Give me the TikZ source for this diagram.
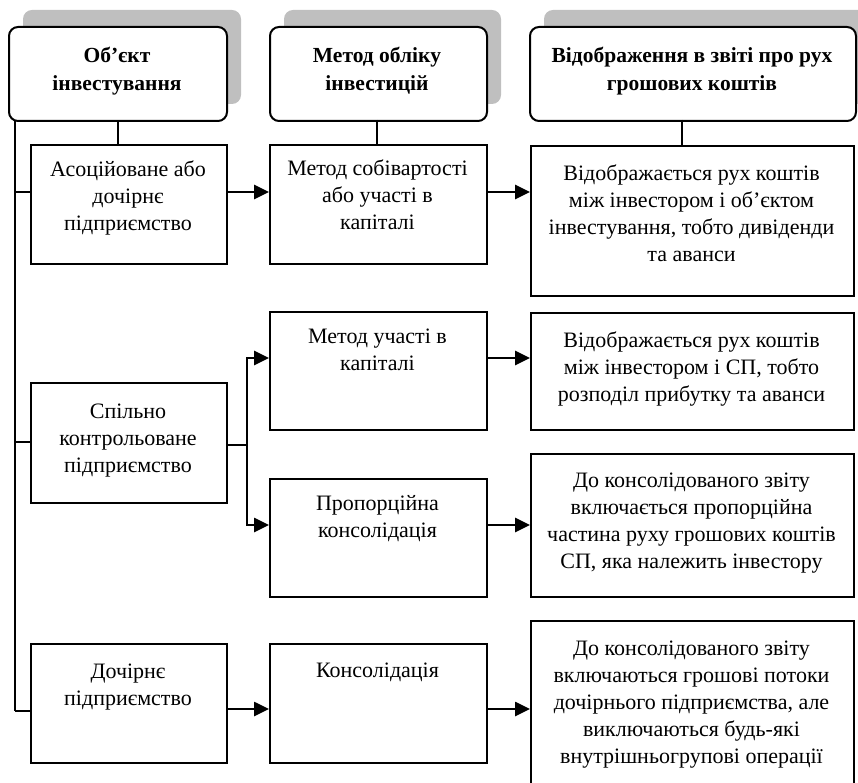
\documentclass[tikz,border=0pt]{standalone}
\usepackage{fontspec}
\setmainfont{Liberation Serif}
\usetikzlibrary{arrows.meta}
\newcommand\firstln{\rule{0pt}{15.5pt}}
\begin{document}
\begin{tikzpicture}[x=1pt,y=-1pt,
  hdr/.style={draw, line width=2pt, rounded corners=9pt, fill=white, anchor=north west, inner sep=0pt},
  shd/.style={fill=black!25, rounded corners=9pt},
  box/.style={draw, line width=1.6pt, anchor=north west, inner sep=0pt},
  txt/.style={anchor=north, inner sep=0pt, align=center, font=\fontsize{22}{27}\selectfont},
  htxt/.style={anchor=north, inner sep=0pt, align=center, font=\fontsize{21.5}{28}\selectfont\bfseries},
  conn/.style={line width=1.5pt},
  arr/.style={line width=2.6pt, -{Triangle[length=15pt,width=14pt]}},
]
\useasboundingbox (0,0) rectangle (858,783);

% header shadows
\fill[shd] (23,10) rectangle (241,104);
\fill[shd] (284,10) rectangle (501,104);
\fill[shd] (544,10) rectangle (872,104);

% headers
\node[hdr, minimum width=218pt, minimum height=94pt] (h1) at (8,26) {};
\node[hdr, minimum width=217pt, minimum height=94pt] (h2) at (269,26) {};
\node[hdr, minimum width=326pt, minimum height=94pt] (h3) at (529,26) {};
\node[htxt] (th1) at (117,46.5) {\firstln Об’єкт\\інвестування};
\node[htxt] (th2) at (377,46.5) {\firstln Метод обліку\\інвестицій};
\node[htxt] (th3) at (692,46.5) {\firstln Відображення в звіті про рух\\грошових коштів};

% column 1
\node[box, minimum width=196pt, minimum height=119pt] (a1) at (30,144) {};
\node[box, minimum width=196pt, minimum height=120pt] (a2) at (30,382) {};
\node[box, minimum width=196pt, minimum height=119pt] (a3) at (30,643) {};
\node[txt] (ta1) at (128,160.5) {\firstln Асоційоване або\\дочірнє\\підприємство};
\node[txt] (ta2) at (128,402.5) {\firstln Спільно\\контрольоване\\підприємство};
\node[txt] (ta3) at (128,662.5) {\firstln Дочірнє\\підприємство};

% column 2
\node[box, minimum width=217pt, minimum height=119pt] (m1) at (269,144) {};
\node[box, minimum width=217pt, minimum height=118pt] (m2) at (269,311) {};
\node[box, minimum width=217pt, minimum height=118pt] (m3) at (269,478) {};
\node[box, minimum width=217pt, minimum height=119pt] (m4) at (269,643) {};
\node[txt] (tm1) at (377.5,159.5) {\firstln Метод собівартості\\або участі в\\капіталі};
\node[txt] (tm2) at (377.5,327.5) {\firstln Метод участі в\\капіталі};
\node[txt] (tm3) at (377.5,494.5) {\firstln Пропорційна\\консолідація};
\node[txt] (tm4) at (377.5,661.5) {\firstln Консолідація};

% column 3
\node[box, minimum width=323pt, minimum height=150pt] (r1) at (530,145) {};
\node[box, minimum width=323pt, minimum height=117pt] (r2) at (530,312) {};
\node[box, minimum width=323pt, minimum height=143pt] (r3) at (530,453) {};
\node[box, minimum width=323pt, minimum height=175pt] (r4) at (530,620) {};
\node[txt] (tr1) at (691.5,164.5) {\firstln Відображається рух коштів\\між інвестором і об’єктом\\інвестування, тобто дивіденди\\та аванси};
\node[txt] (tr2) at (691.5,331.5) {\firstln Відображається рух коштів\\між інвестором і СП, тобто\\розподіл прибутку та аванси};
\node[txt] (tr3) at (691.5,471.5) {\firstln До консолідованого звіту\\включається пропорційна\\частина руху грошових коштів\\СП, яка належить інвестору};
\node[txt] (tr4) at (691.5,639.5) {\firstln До консолідованого звіту\\включаються грошові потоки\\дочірнього підприємства, але\\виключаються будь-які\\внутрішньогрупові операції};

% tree connectors
\coordinate (tk0) at (15,120);
\coordinate (tk1) at (15,192);
\coordinate (tk2) at (15,442);
\coordinate (tk3) at (15,711);
\draw[conn] (tk0) -- (tk3);
\draw[conn] (tk1) -- (a1.west |- tk1);
\draw[conn] (tk2) -- (a2.west |- tk2);
\draw[conn] (tk3) -- (a3.west |- tk3);
\draw[conn] (h1.south) -- (h1.south |- a1.north);
\coordinate (h2c) at (377,120);
\draw[conn] (h2c) -- (h2c |- m1.north);
\coordinate (h3c) at (682,120);
\draw[conn] (h3c) -- (h3c |- r1.north);

% arrows
\coordinate (y1) at (0,192);
\coordinate (y2) at (0,358);
\coordinate (y3) at (0,525);
\coordinate (y4) at (0,709);
\coordinate (sp) at (247,445);
\draw[arr] (a1.east |- y1) -- (m1.west |- y1);
\draw[arr] (m1.east |- y1) -- (r1.west |- y1);
\draw[conn] (a2.east |- sp) -- (sp);
\draw[arr] (sp) |- (m2.west |- y2);
\draw[arr] (sp) |- (m3.west |- y3);
\draw[arr] (m2.east |- y2) -- (r2.west |- y2);
\draw[arr] (m3.east |- y3) -- (r3.west |- y3);
\draw[arr] (a3.east |- y4) -- (m4.west |- y4);
\draw[arr] (m4.east |- y4) -- (r4.west |- y4);
\end{tikzpicture}
\end{document}
